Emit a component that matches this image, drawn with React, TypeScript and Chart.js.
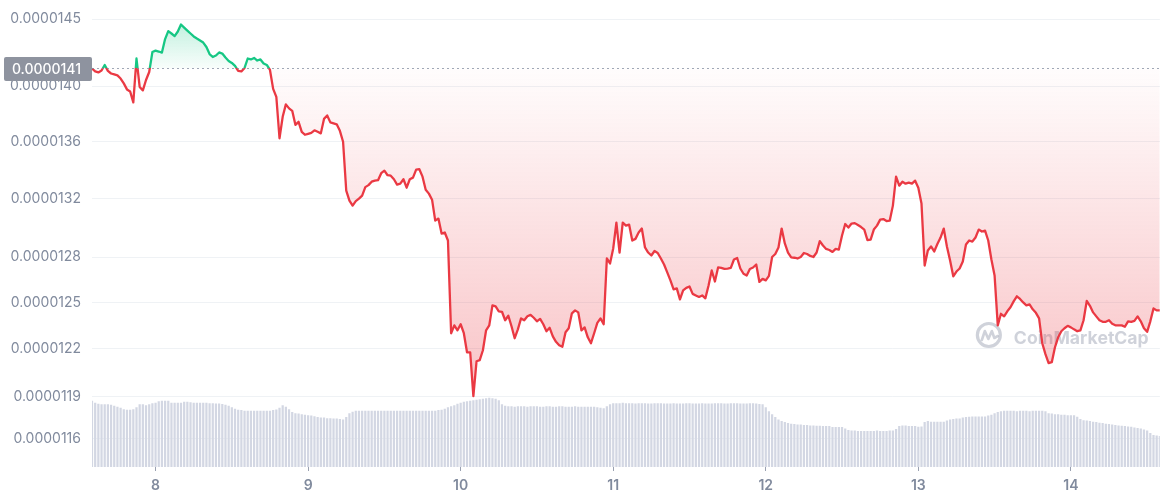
import React, { useEffect, useRef } from "react";
import { Chart, registerables } from "chart.js";

Chart.register(...registerables);

// Time axis: hours counted from day 0 00:00; data every 30 minutes from the 7th 14:00
const START_HOUR = 182;
const STEP_HOURS = 0.5;
const SPAN_HOURS = 168;

const DAY_TICKS = [8, 9, 10, 11, 12, 13, 14];

// Price axis ticks (values in units of 1e-7 USD) and their labels
const PRICE_TICK_VALUES = [145, 140, 136, 132, 128, 125, 122, 119, 116.4];
const PRICE_TICK_LABELS = [
  "0.0000145", "0.0000140", "0.0000136", "0.0000132", "0.0000128",
  "0.0000125", "0.0000122", "0.0000119", "0.0000116",
];
const PRICE_AXIS_MIN = 114.69;
const PRICE_AXIS_MAX = 146.37;

// Price, units of 1e-7 USD, one value every 30 minutes
const priceE7 = [
  141.30, 141.08, 141.01, 141.15, 141.56, 141.12, 140.93, 140.86, 140.79, 140.56,
  140.20, 139.76, 139.61, 138.81, 142.04, 139.94, 139.69, 140.45, 141.04, 142.52,
  142.63, 142.56, 142.48, 143.49, 144.09, 143.91, 143.72, 144.06, 144.59, 144.36,
  144.13, 143.91, 143.69, 143.53, 143.38, 143.23, 142.90, 142.37, 142.15, 142.26,
  142.49, 142.41, 142.11, 141.86, 141.71, 141.49, 141.12, 141.08, 141.34, 142.04,
  141.97, 142.08, 141.89, 141.97, 141.67, 141.56, 141.19, 139.80, 139.21, 136.23,
  137.77, 138.67, 138.38, 138.20, 137.19, 137.41, 136.69, 136.48, 136.55, 136.62,
  136.80, 136.69, 136.58, 137.62, 137.87, 137.37, 137.30, 137.23, 136.76, 135.98,
  132.54, 131.85, 131.51, 131.82, 131.99, 132.20, 132.79, 132.93, 133.17, 133.24,
  133.27, 133.76, 133.94, 133.62, 133.59, 133.34, 132.96, 133.03, 133.34, 132.75,
  133.34, 133.45, 134.01, 134.04, 133.52, 132.61, 132.34, 131.92, 130.48, 130.62,
  129.60, 129.67, 129.13, 123.01, 123.52, 123.20, 123.59, 123.01, 121.79, 121.79,
  119.03, 121.22, 121.29, 121.92, 123.20, 123.52, 124.82, 124.75, 124.43, 124.40,
  123.85, 124.14, 123.46, 122.69, 123.26, 123.97, 123.85, 124.11, 124.20, 124.01,
  123.78, 123.94, 123.59, 123.14, 123.36, 122.81, 122.46, 122.24, 122.14, 123.07,
  123.33, 124.30, 124.49, 124.36, 123.20, 123.39, 122.75, 122.37, 123.01, 123.68,
  123.97, 123.59, 127.92, 127.59, 128.59, 130.35, 128.32, 130.35, 130.14, 130.21,
  129.13, 129.24, 129.67, 129.94, 128.66, 128.32, 128.12, 128.42, 128.29, 127.92,
  127.52, 126.99, 126.46, 125.87, 125.93, 125.21, 125.80, 125.97, 126.06, 125.57,
  125.47, 125.37, 125.47, 125.28, 126.13, 127.12, 126.39, 127.32, 127.29, 127.22,
  127.25, 127.29, 127.85, 127.95, 127.25, 126.90, 126.79, 127.22, 127.32, 127.52,
  126.36, 126.56, 126.46, 126.76, 128.02, 128.22, 128.66, 129.94, 128.93, 128.32,
  127.99, 127.97, 127.92, 128.02, 128.29, 128.22, 128.09, 128.02, 128.32, 129.09,
  128.79, 128.56, 128.49, 128.36, 128.56, 128.52, 129.47, 130.25, 130.01, 130.28,
  130.31, 130.18, 130.04, 129.87, 129.16, 129.19, 129.87, 130.14, 130.55, 130.59,
  130.45, 130.48, 131.51, 133.52, 132.89, 133.17, 133.03, 133.10, 133.03, 133.24,
  132.75, 131.65, 127.45, 128.46, 128.73, 128.39, 128.89, 129.33, 129.94, 128.73,
  127.79, 126.73, 127.05, 127.25, 127.72, 128.86, 129.13, 129.06, 129.33, 129.87,
  129.74, 129.80, 129.13, 127.85, 126.79, 123.52, 124.27, 124.10, 124.43, 124.69,
  125.08, 125.41, 125.24, 125.01, 124.82, 124.88, 124.56, 124.33, 123.97, 122.37,
  121.67, 121.10, 121.16, 122.11, 122.75, 123.14, 123.33, 123.49, 123.39, 123.26,
  123.14, 123.20, 123.85, 125.11, 124.79, 124.36, 124.10, 123.85, 123.75, 123.75,
  123.85, 123.62, 123.52, 123.52, 123.52, 123.43, 123.78, 123.75, 123.81, 124.10,
  123.78, 123.33, 123.10, 123.78, 124.62, 124.49, 124.49,
];

// Volume (arbitrary millions), one bar every 30 minutes
const volumeM = [
  14.20, 13.81, 13.60, 13.49, 13.49, 13.49, 13.38, 13.17, 12.96, 12.74,
  12.42, 12.31, 12.31, 12.42, 12.85, 13.49, 13.49, 13.28, 13.49, 13.70,
  13.81, 14.13, 14.20, 14.20, 14.20, 13.81, 13.81, 13.81, 13.81, 13.98,
  13.98, 13.92, 13.81, 13.81, 13.77, 13.77, 13.77, 13.70, 13.70, 13.64,
  13.64, 13.55, 13.38, 13.17, 12.85, 12.53, 12.31, 12.21, 12.10, 12.06,
  12.06, 12.06, 12.06, 12.06, 12.06, 12.06, 12.10, 12.21, 12.36, 12.74,
  13.28, 12.96, 12.42, 11.78, 11.56, 11.46, 11.35, 11.24, 11.13, 11.03,
  10.92, 10.71, 10.64, 10.60, 10.49, 10.49, 10.43, 10.39, 10.28, 10.21,
  10.71, 11.56, 11.88, 12.06, 12.10, 12.06, 12.06, 12.10, 12.10, 12.06,
  12.06, 12.10, 12.06, 12.06, 12.06, 12.06, 12.10, 12.10, 12.10, 12.06,
  12.10, 12.10, 12.06, 12.10, 12.10, 12.06, 12.10, 12.10, 12.10, 12.21,
  12.31, 12.53, 12.85, 13.06, 13.28, 13.60, 13.81, 14.03, 14.13, 14.24,
  14.35, 14.45, 14.56, 14.67, 14.78, 14.88, 14.78, 14.67, 14.35, 13.49,
  13.17, 13.06, 13.06, 12.96, 13.06, 13.06, 13.06, 12.96, 13.06, 13.06,
  13.06, 12.96, 12.96, 13.06, 13.06, 12.96, 12.96, 13.06, 13.06, 12.96,
  12.96, 12.96, 13.06, 12.96, 12.96, 12.96, 12.96, 12.96, 12.96, 12.85,
  12.74, 12.63, 13.06, 13.49, 13.70, 13.70, 13.70, 13.77, 13.70, 13.70,
  13.70, 13.64, 13.70, 13.70, 13.70, 13.64, 13.64, 13.70, 13.70, 13.70,
  13.64, 13.64, 13.64, 13.70, 13.64, 13.64, 13.64, 13.70, 13.70, 13.64,
  13.64, 13.64, 13.70, 13.64, 13.64, 13.64, 13.70, 13.70, 13.70, 13.64,
  13.64, 13.70, 13.70, 13.70, 13.64, 13.64, 13.64, 13.70, 13.70, 13.64,
  13.55, 13.49, 12.85, 11.99, 11.35, 10.71, 10.17, 9.85, 9.64, 9.42,
  9.31, 9.21, 9.10, 9.10, 8.99, 8.99, 8.89, 8.89, 8.84, 8.84,
  8.78, 8.78, 8.78, 8.57, 8.57, 8.57, 8.57, 8.24, 7.92, 7.82,
  7.82, 7.71, 7.71, 7.71, 7.71, 7.71, 7.71, 7.82, 7.71, 7.71,
  7.71, 7.82, 7.82, 8.14, 8.78, 8.89, 8.89, 8.78, 8.78, 8.78,
  8.63, 8.67, 9.64, 9.85, 9.74, 9.74, 9.74, 9.74, 9.74, 9.96,
  10.17, 10.28, 10.39, 10.43, 10.60, 10.71, 10.77, 10.86, 10.86, 10.86,
  10.86, 10.86, 11.03, 11.24, 11.56, 11.78, 11.99, 12.06, 12.06, 12.06,
  12.06, 11.99, 12.06, 12.06, 12.06, 11.99, 12.06, 12.06, 12.06, 12.06,
  11.99, 11.56, 11.46, 11.35, 11.35, 11.24, 11.24, 11.13, 11.13, 11.13,
  10.81, 10.28, 10.06, 9.96, 9.85, 9.74, 9.64, 9.49, 9.42, 9.31,
  9.21, 9.10, 8.99, 8.93, 8.84, 8.78, 8.72, 8.63, 8.46, 8.35,
  8.24, 8.03, 7.82, 7.28, 6.85, 6.75, 6.64,
];
const VOLUME_AXIS_MAX = 100;

const BASELINE = priceE7[0];

const GREEN = "#16c784";
const RED = "#ea3943";
const LABEL_COLOR = "#808a9d";
const FONT = "Inter, 'Noto Sans', sans-serif";

const overlayPlugin = {
  id: "cmcOverlay",
  beforeDatasetsDraw(chart: any) {
    const { ctx, chartArea: a } = chart;
    ctx.save();
    const cx = a.right - 171;
    const cy = a.bottom - 132;
    const col = "rgba(128,138,157,0.38)";
    ctx.strokeStyle = col;
    ctx.lineWidth = 3.2;
    ctx.beginPath();
    ctx.arc(cx, cy, 11.5, 0, Math.PI * 2);
    ctx.stroke();
    ctx.lineWidth = 2.6;
    ctx.lineJoin = "round";
    ctx.lineCap = "round";
    ctx.beginPath();
    ctx.moveTo(cx - 7, cy + 5);
    ctx.lineTo(cx - 4, cy - 4);
    ctx.lineTo(cx - 0.5, cy + 4);
    ctx.lineTo(cx + 3, cy - 4);
    ctx.lineTo(cx + 5.5, cy + 3);
    ctx.lineTo(cx + 9, cy + 1);
    ctx.stroke();
    ctx.font = `700 20px ${FONT}`;
    const w = ctx.measureText("CoinMarketCap").width;
    const size = (20 * 135) / w;
    ctx.font = `700 ${size.toFixed(2)}px ${FONT}`;
    ctx.fillStyle = col;
    ctx.textAlign = "left";
    ctx.textBaseline = "alphabetic";
    ctx.fillText("CoinMarketCap", cx + 25, cy + 9);
    ctx.restore();
  },
  afterDatasetsDraw(chart: any) {
    const { ctx, chartArea: a } = chart;
    const y = Math.round(chart.scales.y.getPixelForValue(BASELINE)) + 0.5;
    ctx.save();
    ctx.setLineDash([2, 3]);
    ctx.strokeStyle = "rgba(128,138,157,0.75)";
    ctx.lineWidth = 1;
    ctx.beginPath();
    ctx.moveTo(a.left, y);
    ctx.lineTo(a.right, y);
    ctx.stroke();
    ctx.restore();
  },
  afterDraw(chart: any) {
    const { ctx, chartArea: a } = chart;
    const y = chart.scales.y.getPixelForValue(BASELINE);
    ctx.save();
    ctx.fillStyle = "#8e939f";
    ctx.beginPath();
    (ctx as any).roundRect(4, y - 11.5, a.left - 4, 24, 2);
    ctx.fill();
    ctx.fillStyle = "#ffffff";
    ctx.font = `500 14px ${FONT}`;
    ctx.textAlign = "right";
    ctx.textBaseline = "middle";
    ctx.fillText((BASELINE * 1e-7).toFixed(7), a.left - 11, y + 1);
    ctx.restore();
  },
};

export default function App() {
  const ref = useRef<HTMLCanvasElement | null>(null);

  useEffect(() => {
    document.body.style.margin = "0";
    const canvas = ref.current;
    if (!canvas) return;
    const hours = priceE7.map((_, i) => START_HOUR + i * STEP_HOURS);
    const lineData = priceE7.map((v, i) => ({ x: hours[i], y: v }));
    const barData = volumeM.map((v, i) => ({ x: hours[i], y: v }));

    const chart = new Chart(canvas, {
      type: "line",
      data: {
        datasets: [
          {
            type: "line",
            data: lineData,
            yAxisID: "y",
            borderColor: RED,
            borderWidth: 2.3,
            borderJoinStyle: "round",
            pointRadius: 0,
            tension: 0,
            fill: { value: BASELINE, above: "rgba(22,199,132,0.1)", below: "rgba(234,57,67,0.1)" },
            order: 0,
          } as any,
          {
            type: "bar",
            data: barData,
            yAxisID: "yv",
            backgroundColor: "#d3d7e3",
            barPercentage: 0.7,
            categoryPercentage: 1,
            order: 1,
          } as any,
        ],
      },
      options: {
        responsive: false,
        animation: false,
        events: [],
        layout: { padding: 0 },
        plugins: {
          legend: { display: false },
          tooltip: { enabled: false },
        },
        scales: {
          x: {
            type: "linear",
            min: START_HOUR,
            max: START_HOUR + SPAN_HOURS,
            offset: false,
            bounds: "data",
            afterBuildTicks: (s: any) => {
              s.ticks = DAY_TICKS.map((d) => ({ value: d * 24 }));
            },
            afterFit: (s: any) => {
              s.height = 33;
              s.paddingLeft = 0;
              s.paddingRight = 0;
            },
            ticks: {
              autoSkip: false,
              maxRotation: 0,
              padding: 6,
              color: LABEL_COLOR,
              font: { family: FONT, size: 14, weight: "600" },
              callback: (v: any) => String(Math.round(Number(v) / 24)),
            },
            grid: {
              offset: false,
              drawOnChartArea: false,
              drawTicks: true,
              tickLength: 4,
              tickColor: "#9aa1b1",
            },
            border: { display: false },
          },
          y: {
            type: "logarithmic",
            position: "left",
            min: PRICE_AXIS_MIN,
            max: PRICE_AXIS_MAX,
            afterBuildTicks: (s: any) => {
              s.ticks = PRICE_TICK_VALUES.map((v) => ({ value: v }));
            },
            afterFit: (s: any) => {
              s.width = 92;
              s.paddingTop = 0;
              s.paddingBottom = 0;
            },
            ticks: {
              autoSkip: false,
              padding: 11,
              color: LABEL_COLOR,
              font: { family: FONT, size: 14, weight: "400" },
              callback: (_v: any, i: number) => PRICE_TICK_LABELS[i],
            },
            grid: { color: "#eff2f5", drawTicks: false, lineWidth: 1 },
            border: { display: false },
          },
          yv: {
            type: "linear",
            display: false,
            min: 0,
            max: VOLUME_AXIS_MAX,
          },
        },
      } as any,
      plugins: [overlayPlugin],
    });

    // Gradients depend on the laid-out chart area
    const a = chart.chartArea;
    const ys: any = chart.scales.y;
    const yBase = ys.getPixelForValue(BASELINE);
    const yHigh = ys.getPixelForValue(Math.max(...priceE7));
    const yLow = ys.getPixelForValue(Math.min(...priceE7));
    const c = chart.ctx;
    const stroke = c.createLinearGradient(0, a.top, 0, a.bottom);
    const f = (yBase - a.top) / (a.bottom - a.top);
    stroke.addColorStop(0, GREEN);
    stroke.addColorStop(f, GREEN);
    stroke.addColorStop(Math.min(1, f + 0.0001), RED);
    stroke.addColorStop(1, RED);
    const up = c.createLinearGradient(0, yHigh, 0, yBase);
    up.addColorStop(0, "rgba(22,199,132,0.26)");
    up.addColorStop(1, "rgba(22,199,132,0.03)");
    const down = c.createLinearGradient(0, yBase, 0, yLow);
    down.addColorStop(0, "rgba(234,57,67,0.01)");
    down.addColorStop(1, "rgba(234,57,67,0.3)");
    const ds: any = chart.data.datasets[0];
    ds.borderColor = stroke;
    ds.fill = { value: BASELINE, above: up, below: down };
    chart.update();

    return () => chart.destroy();
  }, []);

  return (
    <div style={{ width: 1161, height: 500 }}>
      <canvas ref={ref} width={1161} height={500} style={{ display: "block" }} />
    </div>
  );
}
